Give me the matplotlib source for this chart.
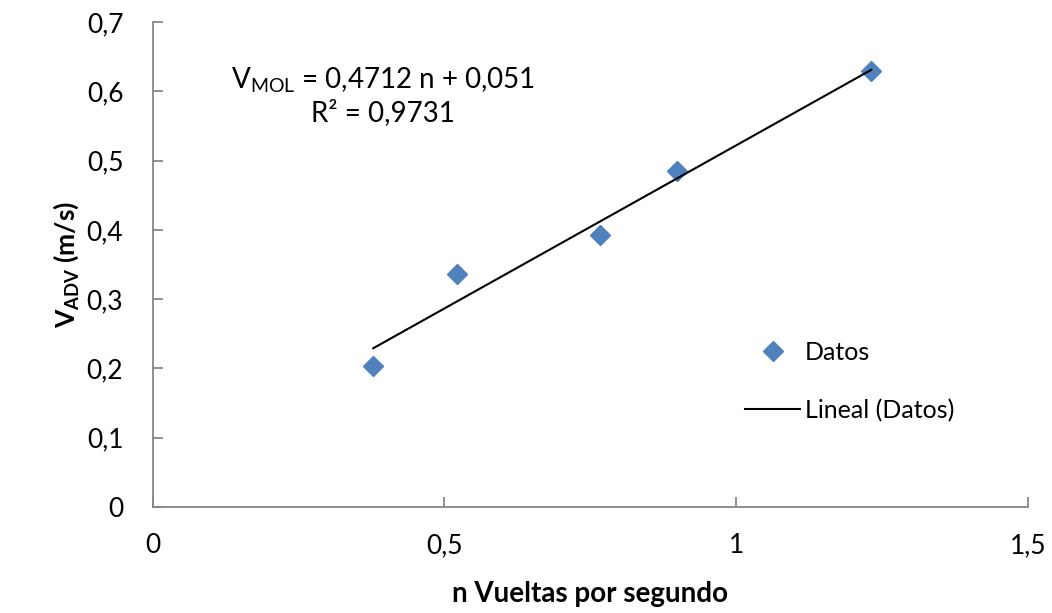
import numpy as np
import matplotlib
matplotlib.use('Agg')
import matplotlib.pyplot as plt
from matplotlib.ticker import FuncFormatter

plt.rcParams['font.family'] = ['Lato', 'DejaVu Sans']
plt.rcParams['mathtext.fontset'] = 'custom'
plt.rcParams['mathtext.rm'] = 'Lato'
plt.rcParams['mathtext.bf'] = 'Lato:bold'

# vueltas por segundo vs velocidad medida
n_vueltas = [0.378, 0.521, 0.766, 0.898, 1.231]
v_adv = [0.204, 0.337, 0.392, 0.485, 0.630]

# recta de ajuste (de la grafica)
pendiente = 0.4712
ordenada = 0.051
r2 = 0.9731

x_ticks = [0, 0.5, 1, 1.5]
y_ticks = [0, 0.1, 0.2, 0.3, 0.4, 0.5, 0.6, 0.7]

gris = '#868686'
azul = '#4F81BD'

fig = plt.figure(figsize=(10.52, 6.13), dpi=100)
ax = fig.add_axes([0.145, 0.173, 0.8325, 0.791])

ax.plot(n_vueltas, v_adv, linestyle='none', marker='D', markersize=10,
        color=azul, label='Datos')
xs = np.array([min(n_vueltas), max(n_vueltas)])
ax.plot(xs, pendiente * xs + ordenada, color='black', linewidth=1.5,
        label='Lineal (Datos)')

ax.set_xlim(0, 1.5)
ax.set_ylim(0, 0.7)
ax.set_xticks(x_ticks)
ax.set_yticks(y_ticks)

coma = FuncFormatter(lambda v, p: ('%g' % round(v, 2)).replace('.', ','))
ax.xaxis.set_major_formatter(coma)
ax.yaxis.set_major_formatter(coma)

for s in ['top', 'right']:
    ax.spines[s].set_visible(False)
for s in ['left', 'bottom']:
    ax.spines[s].set_color(gris)
    ax.spines[s].set_linewidth(1.3)

ax.tick_params(axis='both', direction='in', length=7, width=1.3, color=gris,
               labelsize=19)
ax.tick_params(axis='y', pad=21)
ax.tick_params(axis='x', pad=19)

ax.set_xlabel('n Vueltas por segundo', fontsize=20, fontweight='bold', labelpad=16)
ax.set_ylabel(r'$\mathbf{V}_{\mathbf{ADV}}$ (m/s)', fontsize=19,
              fontweight='bold', labelpad=4)

ax.text(0.395, 0.616, r'V$_{\mathrm{MOL}}$ = 0,4712 n + 0,051', fontsize=20,
        ha='center', va='center')
ax.text(0.395, 0.569, 'R² = 0,9731', fontsize=20, ha='center', va='center')

ax.legend(loc='center left', bbox_to_anchor=(0.687, 0.378),
          bbox_transform=fig.transFigure, frameon=False, fontsize=18,
          handlelength=2.2, labelspacing=1.4, handletextpad=0.2)

fig.savefig('out.png', dpi=100)
